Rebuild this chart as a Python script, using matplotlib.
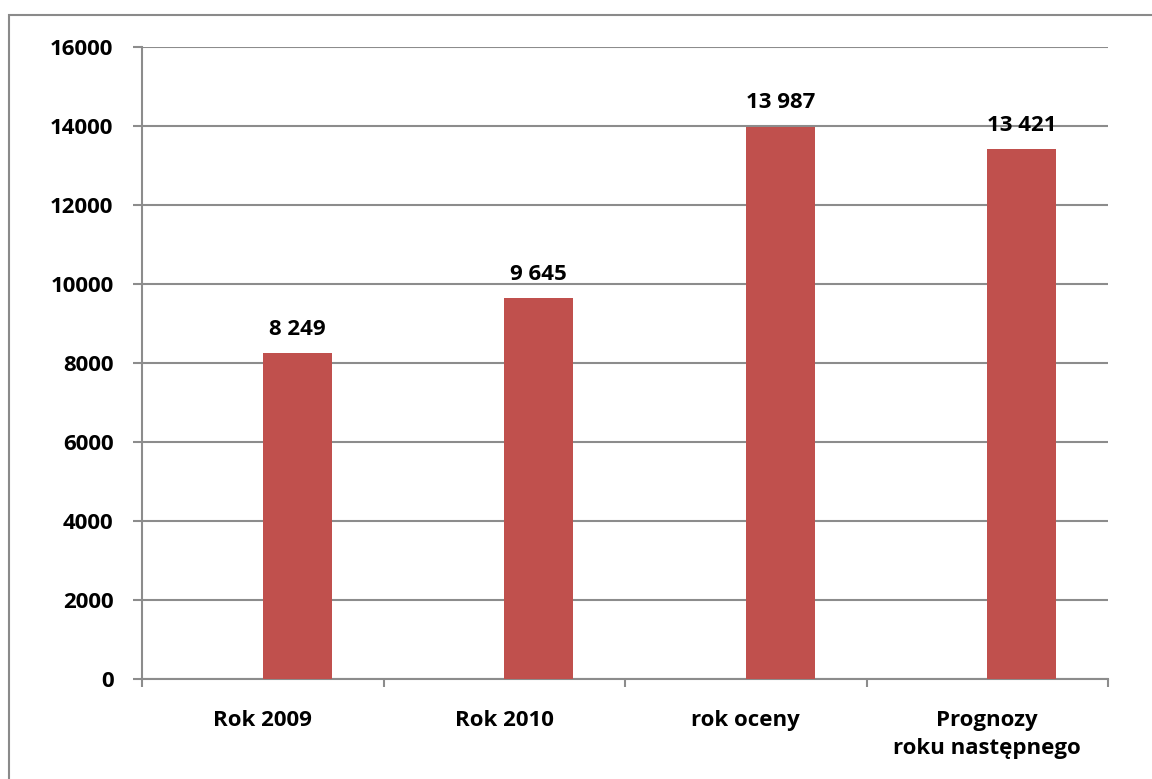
import matplotlib
matplotlib.use("Agg")
import matplotlib.pyplot as plt
from matplotlib.patches import Rectangle
from matplotlib.ticker import FixedLocator

categories = ["Rok 2009", "Rok 2010", "rok oceny", "Prognozy\nroku następnego"]
values = [8249, 9645, 13987, 13421]
value_labels = ["8 249", "9 645", "13 987", "13 421"]
yticks = [0, 2000, 4000, 6000, 8000, 10000, 12000, 14000, 16000]

W, H = 1152, 779
fig = plt.figure(figsize=(W / 100, H / 100), dpi=100)
fig.patch.set_facecolor("white")

# outer chart border
fig.patches.append(Rectangle((9 / W, -0.05), 1.2, 1 - 15 / H + 0.05,
                             transform=fig.transFigure, fill=False,
                             edgecolor="#8a8a8a", linewidth=1.5, zorder=0))

ax = fig.add_axes([142 / W, 1 - 679 / H, (1108 - 142) / W, (679 - 47) / H])

grid_c = "#8c8c8c"
font = "Open Sans"
fs = 16
x = list(range(len(categories)))
bw = 69 / 241.5
bars = ax.bar(x, values, width=bw, align="edge", color="#C0504D", zorder=3)

for xi, v, lab in zip(x, values, value_labels):
    ax.annotate(lab, (xi + bw / 2, v), xytext=(0, 9.5), textcoords="offset points",
                ha="center", va="bottom", fontsize=fs, fontweight="bold",
                family=font, color="black")

ax.set_xlim(-0.5, len(categories) - 0.5)
ax.set_ylim(0, 16000)
ax.set_yticks(yticks)
ax.set_yticklabels([str(t) for t in yticks], fontsize=fs, fontweight="bold", family=font)
ax.yaxis.grid(True, color=grid_c, linewidth=1.5, zorder=0)
ax.set_axisbelow(True)

ax.set_xticks(x)
ax.set_xticklabels(categories, fontsize=fs, fontweight="bold", family=font,
                   linespacing=1.45)
ax.xaxis.set_minor_locator(FixedLocator([i - 0.5 for i in range(len(categories) + 1)]))
ax.tick_params(axis="x", which="major", length=0, pad=22)
ax.tick_params(axis="x", which="minor", length=5.5, width=1.5, color=grid_c)
ax.tick_params(axis="y", length=6.5, width=1.5, color=grid_c, pad=14)

for s in ["top", "right"]:
    ax.spines[s].set_visible(False)
for s in ["left", "bottom"]:
    ax.spines[s].set_color(grid_c)
    ax.spines[s].set_linewidth(1.5)

fig.savefig("out.png", dpi=100, facecolor="white")
